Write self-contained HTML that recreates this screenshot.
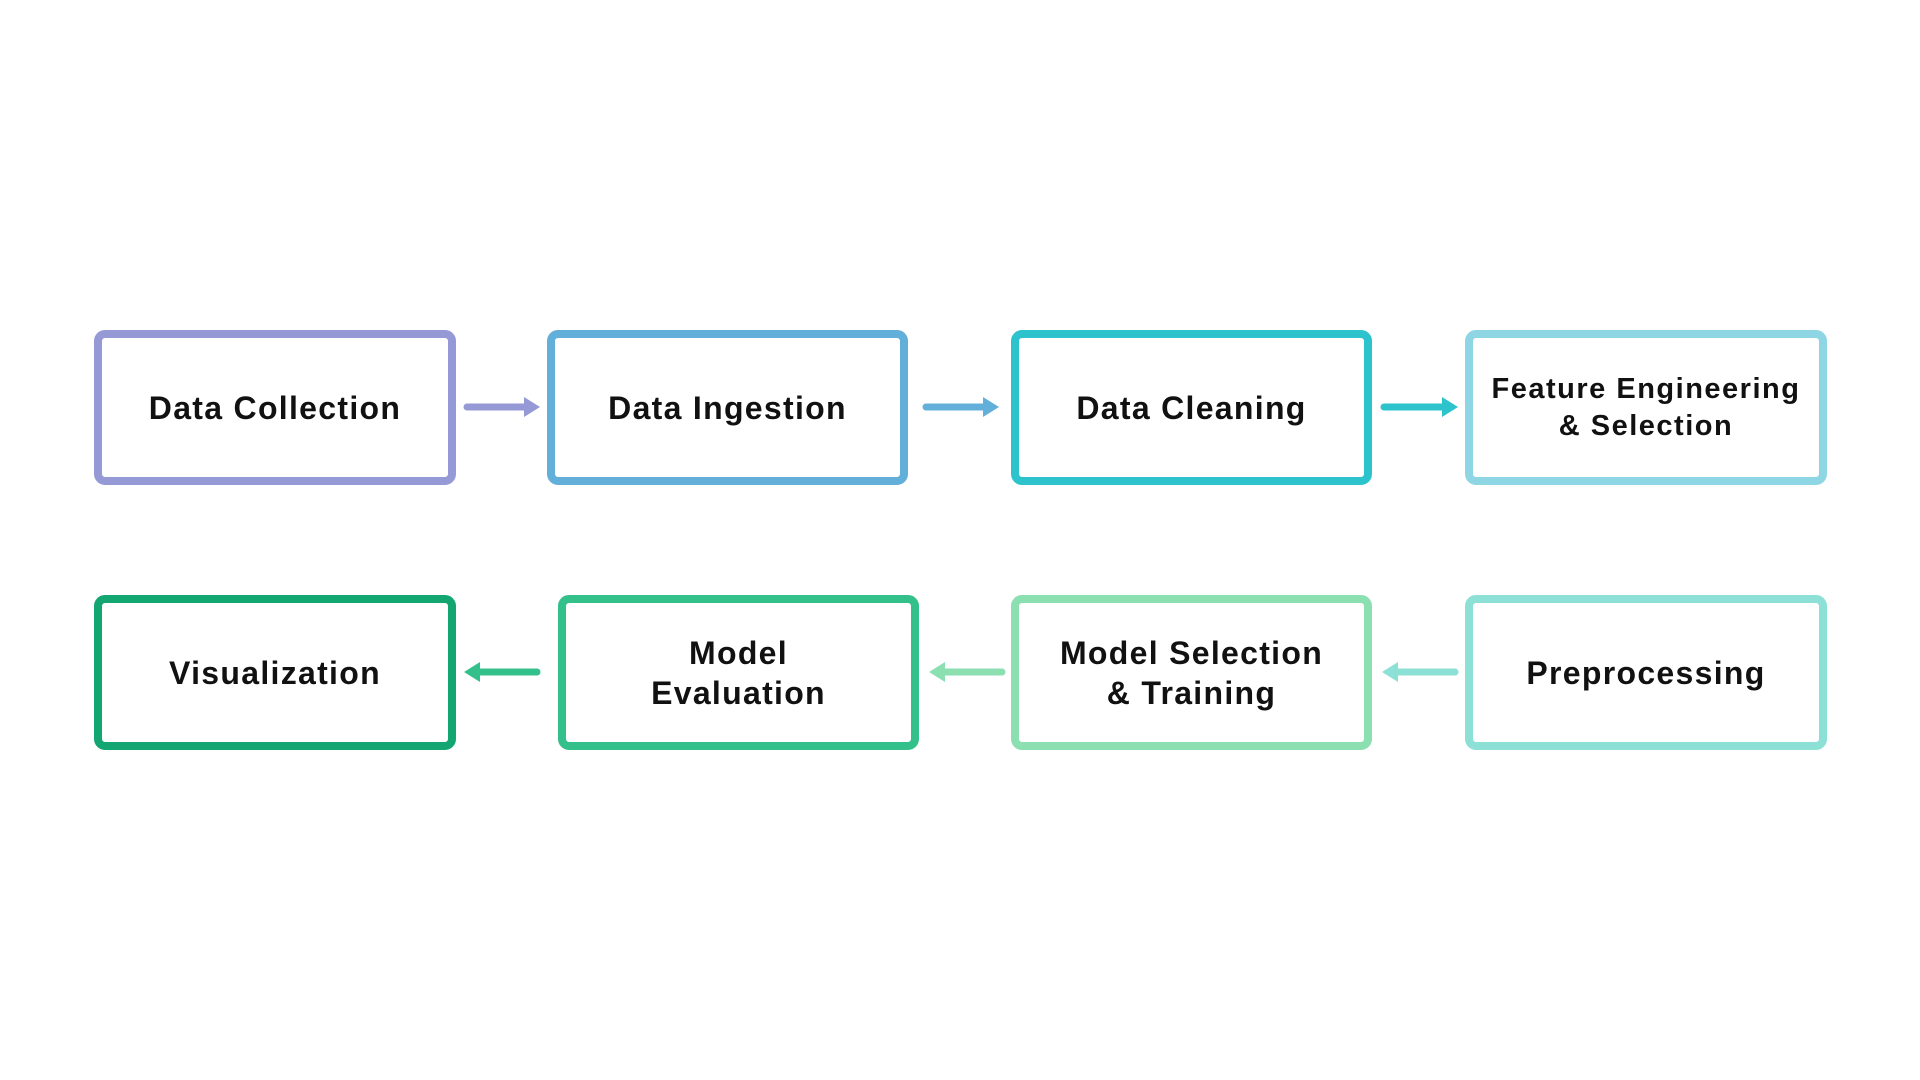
<!DOCTYPE html><html><head><style>
body{margin:0;width:1920px;height:1080px;background:#fff;position:relative;overflow:hidden;font-family:"Liberation Sans",sans-serif}
.b{position:absolute;box-sizing:border-box;border:8px solid;border-radius:11px;display:flex;align-items:center;justify-content:center;text-align:center;font-weight:bold;font-size:32px;color:#111;line-height:40px;letter-spacing:1.3px}
svg{position:absolute;left:0;top:0}
</style></head><body>
<div class="b" style="left:94px;top:330px;width:362px;height:155px;border-color:#9599d6">Data Collection</div>
<div class="b" style="left:547px;top:330px;width:361px;height:155px;border-color:#62afd9">Data Ingestion</div>
<div class="b" style="left:1011px;top:330px;width:361px;height:155px;border-color:#2cc3cc">Data Cleaning</div>
<div class="b" style="left:1465px;top:330px;width:362px;height:155px;border-color:#8fd6e4;font-size:29px;line-height:37px;letter-spacing:1.5px">Feature Engineering<br>&amp; Selection</div>
<div class="b" style="left:94px;top:595px;width:362px;height:155px;border-color:#13a672">Visualization</div>
<div class="b" style="left:558px;top:595px;width:361px;height:155px;border-color:#34c08a">Model<br>Evaluation</div>
<div class="b" style="left:1011px;top:595px;width:361px;height:155px;border-color:#8cdfb0">Model Selection<br>&amp; Training</div>
<div class="b" style="left:1465px;top:595px;width:362px;height:155px;border-color:#8ce0d6">Preprocessing</div>
<svg width="1920" height="1080">
<g stroke-width="7" stroke-linecap="round">
<line x1="467" y1="407" x2="526" y2="407" stroke="#9599d6"/><path d="M524 397 L540 407 L524 417Z" fill="#9599d6"/>
<line x1="926" y1="407" x2="985" y2="407" stroke="#62afd9"/><path d="M983 397 L999 407 L983 417Z" fill="#62afd9"/>
<line x1="1384" y1="407" x2="1444" y2="407" stroke="#2cc3cc"/><path d="M1442 397 L1458 407 L1442 417Z" fill="#2cc3cc"/>
<line x1="537" y1="672" x2="478" y2="672" stroke="#34c08a"/><path d="M480 662 L464 672 L480 682Z" fill="#34c08a"/>
<line x1="1002" y1="672" x2="943" y2="672" stroke="#8cdfb0"/><path d="M945 662 L929 672 L945 682Z" fill="#8cdfb0"/>
<line x1="1455" y1="672" x2="1396" y2="672" stroke="#8ce0d6"/><path d="M1398 662 L1382 672 L1398 682Z" fill="#8ce0d6"/>
</g></svg>
</body></html>
